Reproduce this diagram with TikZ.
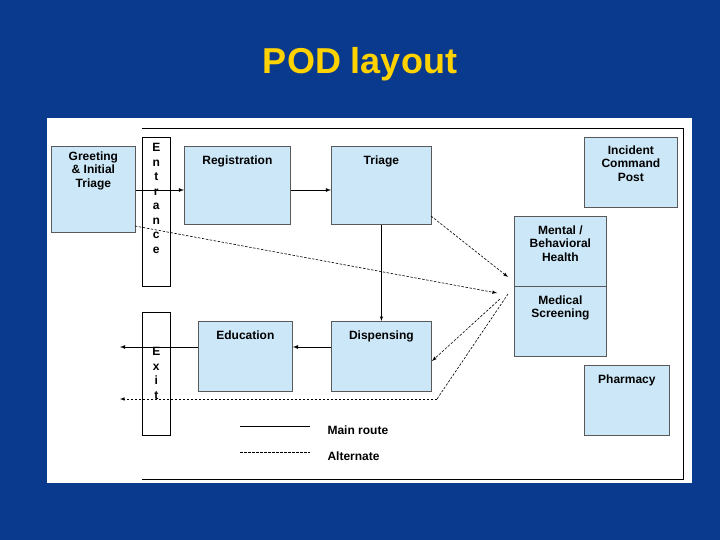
\documentclass[tikz,border=0pt]{standalone}
\usepackage{fontspec}
\setmainfont{Liberation Sans}
\begin{document}
\begin{tikzpicture}[x=1pt,y=-1pt,
  box/.style={draw=gray!70!black,fill=boxblue,line width=0.8pt,align=center,font=\bfseries\fontsize{12}{13.5}\selectfont},
  bar/.style={draw=black,fill=white,line width=0.6pt,align=center,font=\bfseries\fontsize{12}{14.5}\selectfont},
  main/.style={draw=black,line width=0.8pt,-latex},
  alt/.style={draw=black,line width=0.6pt,dashed,dash pattern=on 2.5pt off 1.5pt,-latex},
  lbl/.style={font=\bfseries\fontsize{12}{14}\selectfont,anchor=west}]
\definecolor{bg}{HTML}{0A3A8E}
\definecolor{boxblue}{HTML}{CCE8F8}
\definecolor{ttl}{HTML}{FFD200}
\useasboundingbox (0,0) rectangle (720,540);
\fill[bg] (0,0) rectangle (720,540);
\fill[white] (47,118) rectangle (692,483);
\draw[black,line width=0.6pt] (142,128) -- (683,128) -- (683,479) -- (142,479);
\node[font=\bfseries\fontsize{36}{40}\selectfont,text=ttl] (title) at (360,64) {POD layout};
% boxes
\node[box,minimum width=84pt,minimum height=86pt,anchor=north west,inner sep=0pt] (greet) at (51,146) {};
\node[box,anchor=north] at (greet.north) [draw=none,fill=none,yshift=-2pt] {Greeting\\\& Initial\\Triage};
\node[bar,minimum width=28pt,minimum height=149pt,anchor=north west,inner sep=0pt] (ent) at (142,137) {};
\node[bar,draw=none,fill=none,anchor=north] at ([yshift=-3pt]ent.north) {E\\n\\t\\r\\a\\n\\c\\e};
\node[box,minimum width=106pt,minimum height=78pt,anchor=north west,inner sep=0pt] (reg) at (184,146) {};
\node[box,draw=none,fill=none,anchor=north] at ([yshift=-6pt]reg.north) {Registration};
\node[box,minimum width=100pt,minimum height=78pt,anchor=north west,inner sep=0pt] (tri) at (331,146) {};
\node[box,draw=none,fill=none,anchor=north] at ([yshift=-6pt]tri.north) {Triage};
\node[box,minimum width=93pt,minimum height=70pt,anchor=north west,inner sep=0pt] (icp) at (584,137) {};
\node[box,draw=none,fill=none,anchor=north] at ([yshift=-5pt]icp.north) {Incident\\Command\\Post};
\node[box,minimum width=92pt,minimum height=70pt,anchor=north west,inner sep=0pt] (mh) at (514,216) {};
\node[box,draw=none,fill=none,anchor=north] at ([yshift=-6pt]mh.north) {Mental /\\Behavioral\\Health};
\node[box,minimum width=92pt,minimum height=70pt,anchor=north west,inner sep=0pt] (ms) at (514,286) {};
\node[box,draw=none,fill=none,anchor=north] at ([yshift=-6pt]ms.north) {Medical\\Screening};
\node[bar,minimum width=28pt,minimum height=123pt,anchor=north west,inner sep=0pt] (ex) at (142,312) {};
\node[bar,draw=none,fill=none,anchor=north] at ([yshift=-32pt]ex.north) {E\\x\\i\\t};
\node[box,minimum width=94pt,minimum height=70pt,anchor=north west,inner sep=0pt] (edu) at (198,321) {};
\node[box,draw=none,fill=none,anchor=north] at ([yshift=-6pt]edu.north) {Education};
\node[box,minimum width=100pt,minimum height=70pt,anchor=north west,inner sep=0pt] (dis) at (331,321) {};
\node[box,draw=none,fill=none,anchor=north] at ([yshift=-6pt]dis.north) {Dispensing};
\node[box,minimum width=85pt,minimum height=70pt,anchor=north west,inner sep=0pt] (ph) at (584,365) {};
\node[box,draw=none,fill=none,anchor=north] at ([yshift=-6pt]ph.north) {Pharmacy};
% coordinates
\coordinate (exitA) at (120,347);
\coordinate (exitB) at (120,399);
\coordinate (m1) at (508,277);
\coordinate (m2) at (497,293);
\coordinate (m3) at (500,299);
\coordinate (m4) at (508,294);
\coordinate (bend) at (437,399);
% main route
\draw[main] (greet.east |- 0,190) -- (reg.west |- 0,190);
\draw[main] (reg.east |- 0,190) -- (tri.west |- 0,190);
\draw[main,line width=0.5pt] (tri.south) -- (dis.north);
\draw[main] (dis.west |- 0,347) -- (edu.east |- 0,347);
\draw[main] (edu.west |- 0,347) -- (exitA);
% alternate
\draw[alt] (431,216) -- (m1);
\draw[alt] (135,226) -- (m2);
\draw[alt] (m3) -- (432,361);
\draw[alt,-] (m4) -- (bend);
\draw[alt] (bend) -- (exitB);
% legend
\coordinate (l1a) at (240,426); \coordinate (l1b) at (310,426);
\coordinate (l2a) at (240,452); \coordinate (l2b) at (310,452);
\draw[black,line width=0.6pt] (l1a) -- (l1b);
\draw[black,line width=0.6pt,dash pattern=on 2.5pt off 1.5pt] (l2a) -- (l2b);
\node[lbl] (lm) at (324,430) {Main route};
\node[lbl] (la) at (324,456) {Alternate};
\end{tikzpicture}
\end{document}
